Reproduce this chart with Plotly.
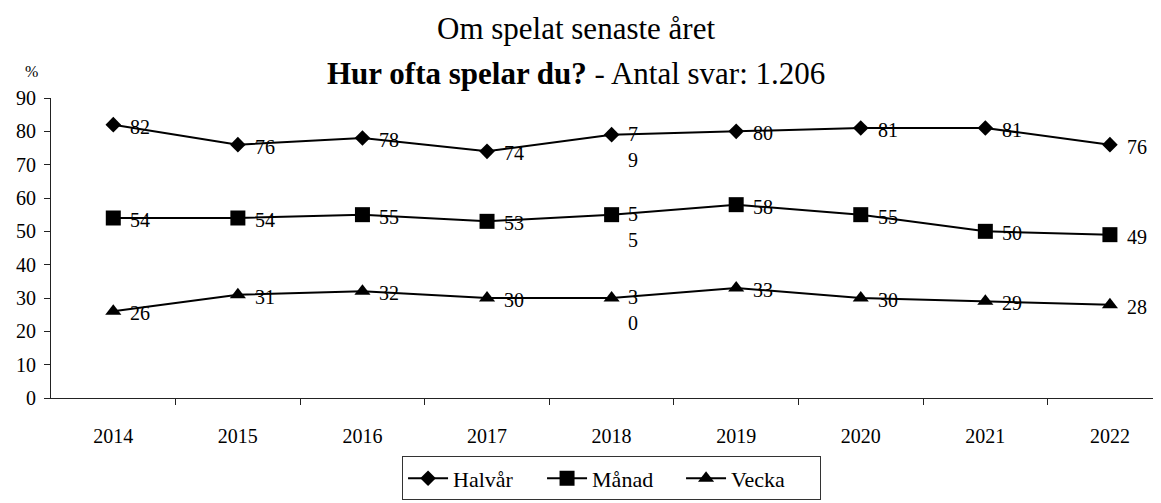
import plotly.graph_objects as go

years = ["2014", "2015", "2016", "2017", "2018", "2019", "2020", "2021", "2022"]
halvar = [82, 76, 78, 74, 79, 80, 81, 81, 76]
manad = [54, 54, 55, 53, 55, 58, 55, 50, 49]
vecka = [26, 31, 32, 30, 30, 33, 30, 29, 28]
series = [("Halvår", halvar, "diamond", 12), ("Månad", manad, "square", 15), ("Vecka", vecka, "triangle-up", 14)]
yticks = [0, 10, 20, 30, 40, 50, 60, 70, 80, 90]

FONT = "Liberation Serif"
fig = go.Figure()
annotations = []
for name, vals, sym, msize in series:
    fig.add_trace(go.Scatter(
        x=list(range(len(years))), y=vals, name=name, mode="lines+markers",
        line=dict(color="black", width=2),
        marker=dict(symbol=sym, size=msize, color="black"),
    ))
    for i, (yr, v) in enumerate(zip(years, vals)):
        if yr == "2018":
            s = str(v)
            annotations.append(dict(x=i, y=v, xref="x", yref="y", text=s[0] + "<br>" + s[1],
                                    showarrow=False, xanchor="left", yanchor="top", xshift=14, yshift=14,
                                    font=dict(size=20, family=FONT, color="black")))
        else:
            annotations.append(dict(x=i, y=v, xref="x", yref="y", text=str(v),
                                    showarrow=False, xanchor="left", yanchor="middle", xshift=15, yshift=-2,
                                    font=dict(size=20, family=FONT, color="black")))

annotations.append(dict(x=0.473, y=1.233, xref="paper", yref="paper", text="Om spelat senaste året",
                        showarrow=False, xanchor="center", yanchor="middle",
                        font=dict(size=31, family=FONT, color="black")))
annotations.append(dict(x=0.473, y=1.083, xref="paper", yref="paper",
                        text="<b>Hur ofta spelar du?</b> - Antal svar: 1.206",
                        showarrow=False, xanchor="center", yanchor="middle",
                        font=dict(size=31, family=FONT, color="black")))
annotations.append(dict(x=-0.018, y=1.087, xref="paper", yref="paper", text="%",
                        showarrow=False, xanchor="center", yanchor="middle",
                        font=dict(size=16, family=FONT, color="black")))

fig.update_layout(
    width=1153, height=495,
    margin=dict(l=43, r=0, t=90, b=105, autoexpand=False),
    paper_bgcolor="white", plot_bgcolor="white",
    font=dict(family=FONT, color="black"),
    showlegend=True,
    legend=dict(orientation="h", x=0.505, y=-0.268, xanchor="center", yanchor="middle",
                bordercolor="#333", borderwidth=1, font=dict(size=22, family=FONT),
                entrywidth=84, entrywidthmode="pixels", itemwidth=40, tracegroupgap=0),
    annotations=annotations,
    xaxis=dict(range=[-0.5, 8.41], tickvals=list(range(len(years))), ticktext=years,
               showline=True, linecolor="#222", linewidth=1,
               ticks="", showgrid=False, zeroline=False, tickfont=dict(size=20, family=FONT),
               ticklabelstandoff=20),
    xaxis2=dict(overlaying="x", range=[-0.5, 8.41], tickvals=[i + 0.5 for i in range(len(years))],
                showticklabels=False, ticks="outside", ticklen=6, tickcolor="#222",
                showgrid=False, zeroline=False, side="bottom", anchor="y"),
    yaxis=dict(range=[0, 90], tickvals=yticks, showline=True, linecolor="#222", linewidth=1,
               ticks="outside", ticklen=6, tickcolor="#222", showgrid=False, zeroline=False,
               tickfont=dict(size=20, family=FONT), ticklabelstandoff=4),
)
fig.add_trace(go.Scatter(x=[0], y=[None], xaxis="x2", showlegend=False, hoverinfo="skip"))

fig.write_html("out.html")
